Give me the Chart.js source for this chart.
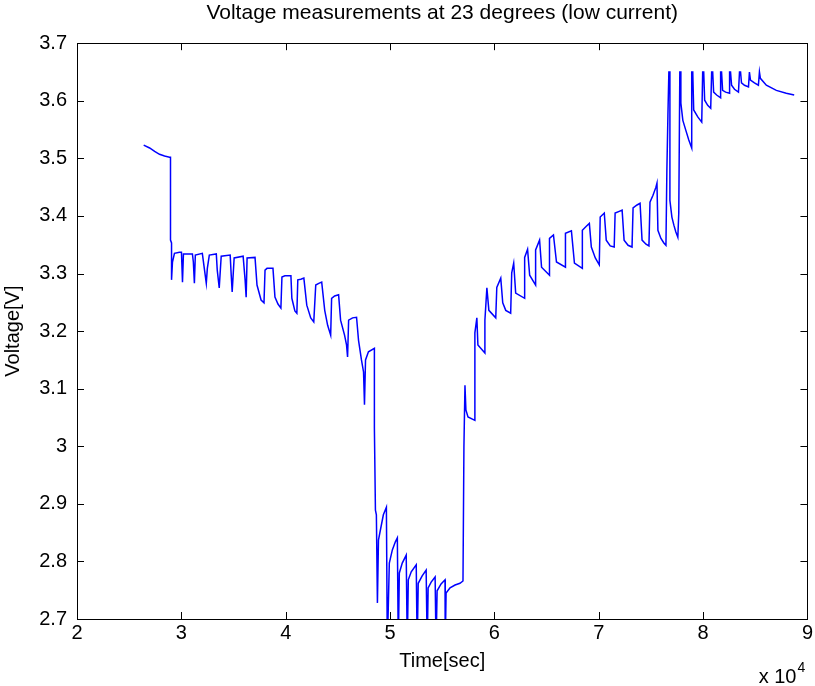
<!DOCTYPE html>
<html>
<head>
<meta charset="utf-8">
<title>Voltage measurements at 23 degrees (low current)</title>
<script src="https://cdn.jsdelivr.net/npm/chart.js@4.4.1/dist/chart.umd.min.js"></script>
<style>
    html, body { margin: 0; padding: 0; background: #fff; }
</style>
</head>
<body>
<canvas id="voltageChart" width="815" height="686"></canvas>
<script>
// Voltage measurements at 23 degrees, low current
// [time in seconds, voltage in volts], read off the plot

// rest, then discharge pulses
const restAndDischarge = [
    [26390, 3.523], [26960, 3.518], [27440, 3.512], [27910, 3.507], [28390, 3.504], [28870, 3.502],
    [28960, 3.502], [28960, 3.358], [29060, 3.353], [29060, 3.289], [29150, 3.320], [29340, 3.335], [29820, 3.337], [30010, 3.337],
    [30110, 3.285], [30200, 3.334], [31060, 3.334],
    [31150, 3.320], [31250, 3.283], [31340, 3.332], [32010, 3.335],
    [32200, 3.309], [32390, 3.283], [32490, 3.309], [32680, 3.332], [33350, 3.334],
    [33440, 3.306], [33630, 3.275], [33820, 3.330], [34680, 3.332],
    [34780, 3.297], [34870, 3.268], [35060, 3.327], [35920, 3.330],
    [36110, 3.289], [36210, 3.259], [36300, 3.327], [37060, 3.328],
    [37250, 3.280], [37640, 3.254], [37920, 3.249], [38020, 3.306], [38210, 3.309], [38780, 3.309],
    [38970, 3.259], [39260, 3.247], [39540, 3.240], [39640, 3.294], [39920, 3.296], [40500, 3.296],
    [40590, 3.257], [40880, 3.235], [41070, 3.231], [41160, 3.289], [41450, 3.290], [41740, 3.292],
    [42020, 3.245], [42400, 3.223], [42690, 3.216], [42880, 3.280], [43170, 3.283], [43450, 3.285],
    [43740, 3.236], [44020, 3.210], [44310, 3.193], [44400, 3.257], [44690, 3.261], [45070, 3.263],
    [45260, 3.219], [45640, 3.193], [45830, 3.176], [45930, 3.155], [46030, 3.219], [46410, 3.223], [46790, 3.224],
    [46980, 3.184], [47260, 3.150], [47460, 3.129], [47550, 3.072], [47650, 3.150], [47930, 3.164], [48500, 3.170]
];

// deep discharge, pulses drop below 2.7
const deepPulses = [
    [48500, 3.032], [48600, 2.889], [48690, 2.881], [48790, 2.728], [48890, 2.837], [49080, 2.855], [49360, 2.881], [49650, 2.894],
    [49740, 2.65], [49930, 2.797], [50220, 2.820], [50510, 2.834], [50700, 2.841],
    [50790, 2.65], [50890, 2.780], [51170, 2.797], [51550, 2.811],
    [51650, 2.65], [51750, 2.768], [52030, 2.782], [52510, 2.794],
    [52600, 2.65], [52700, 2.762], [53080, 2.775], [53460, 2.785],
    [53560, 2.65], [53650, 2.754], [53940, 2.764], [54320, 2.773],
    [54410, 2.65], [54510, 2.749], [54890, 2.761], [55270, 2.768],
    [55290, 2.65], [55370, 2.745], [55750, 2.754], [56230, 2.759], [56700, 2.762], [56990, 2.766]
];

// charge pulses
const chargePulses = [
    [57080, 2.999], [57180, 3.106], [57270, 3.063], [57470, 3.051], [58130, 3.045],
    [58130, 3.197], [58320, 3.223], [58420, 3.176], [59090, 3.162],
    [59090, 3.219], [59280, 3.275], [59470, 3.236], [60130, 3.223],
    [60230, 3.276], [60610, 3.292], [60800, 3.249], [61090, 3.236], [61560, 3.231],
    [61660, 3.301], [61850, 3.318], [62040, 3.266], [62900, 3.257],
    [62900, 3.328], [63180, 3.342], [63380, 3.297], [63950, 3.280],
    [63950, 3.341], [64330, 3.358], [64520, 3.311], [65280, 3.297],
    [65280, 3.361], [65660, 3.367], [65950, 3.320], [66810, 3.311],
    [66810, 3.370], [67380, 3.374], [67670, 3.318], [68430, 3.309],
    [68430, 3.375], [68810, 3.382], [69100, 3.387], [69290, 3.346], [69670, 3.327], [70050, 3.315],
    [70140, 3.398], [70530, 3.405], [70720, 3.358], [71100, 3.348], [71480, 3.346],
    [71570, 3.405], [71960, 3.408], [72240, 3.410], [72430, 3.358], [72810, 3.349], [73190, 3.346],
    [73290, 3.414], [73670, 3.419], [73960, 3.422], [74150, 3.358], [74530, 3.351], [74810, 3.348],
    [74910, 3.424], [75200, 3.436], [75480, 3.450], [75580, 3.457], [75670, 3.375], [75960, 3.361], [76240, 3.353], [76440, 3.349],
    [76530, 3.480], [76630, 3.575]
];

// top of charge, pulses capped at 3.65
const topPulses = [
    [76720, 3.650], [76820, 3.650], [76820, 3.427], [77010, 3.398], [77200, 3.384], [77390, 3.372], [77580, 3.363], [77670, 3.405], [77770, 3.650],
    [77870, 3.650], [77870, 3.596], [78060, 3.566], [78340, 3.549], [78630, 3.532], [78910, 3.518], [78910, 3.650],
    [79010, 3.650], [79100, 3.584], [79490, 3.572], [79870, 3.563], [79960, 3.650],
    [80060, 3.650], [80150, 3.601], [80440, 3.592], [80730, 3.587], [80820, 3.650],
    [80920, 3.650], [81010, 3.615], [81300, 3.610], [81680, 3.605], [81680, 3.650],
    [81770, 3.650], [81870, 3.618], [82160, 3.615], [82540, 3.613], [82540, 3.650],
    [82630, 3.650], [82730, 3.627], [83010, 3.620], [83390, 3.615], [83490, 3.650],
    [83590, 3.650], [83680, 3.631], [83970, 3.627], [84350, 3.624], [84440, 3.650],
    [84540, 3.636], [84920, 3.631], [85300, 3.627], [85400, 3.650], [85490, 3.639],
    [86060, 3.627], [87020, 3.618], [87970, 3.613], [88730, 3.610]
];

const xTicks = [20000, 30000, 40000, 50000, 60000, 70000, 80000, 90000];
const yTicks = [2.7, 2.8, 2.9, 3, 3.1, 3.2, 3.3, 3.4, 3.5, 3.6, 3.7];

const FONT = '"Liberation Sans", Arial, Helvetica, sans-serif';
const TICK_LEN = 7;

Chart.defaults.font.family = FONT;
Chart.defaults.color = '#000';

// MATLAB style box: full frame, inward ticks on all sides, x 10^4 exponent
const matlabBox = {
    id: 'matlabBox',
    afterDraw(chart) {
        const { ctx, chartArea: a, scales } = chart;
        ctx.save();
        ctx.strokeStyle = '#000';
        ctx.lineWidth = 1;
        ctx.strokeRect(Math.round(a.left) + 0.5, Math.round(a.top) + 0.5,
            Math.round(a.right - a.left), Math.round(a.bottom - a.top));

        ctx.beginPath();
        xTicks.forEach(v => {
            const x = Math.round(scales.x.getPixelForValue(v)) + 0.5;
            ctx.moveTo(x, a.bottom);
            ctx.lineTo(x, a.bottom - TICK_LEN);
            ctx.moveTo(x, a.top);
            ctx.lineTo(x, a.top + TICK_LEN);
        });
        yTicks.forEach(v => {
            const y = Math.round(scales.y.getPixelForValue(v)) + 0.5;
            ctx.moveTo(a.left, y);
            ctx.lineTo(a.left + TICK_LEN, y);
            ctx.moveTo(a.right, y);
            ctx.lineTo(a.right - TICK_LEN, y);
        });
        ctx.stroke();

        ctx.fillStyle = '#000';
        ctx.textBaseline = 'alphabetic';
        ctx.font = '20px ' + FONT;
        ctx.textAlign = 'right';
        ctx.fillText('x 10', a.right - 11, 683);
        ctx.font = '14px ' + FONT;
        ctx.textAlign = 'left';
        ctx.fillText('4', a.right - 10, 672);
        ctx.restore();
    }
};

const points = restAndDischarge
    .concat(deepPulses, chargePulses, topPulses)
    .map(([t, v]) => ({ x: t, y: v }));

new Chart(document.getElementById('voltageChart'), {
    type: 'scatter',
    data: {
        datasets: [{
            label: 'Voltage',
            data: points,
            showLine: true,
            borderColor: '#0000ff',
            borderWidth: 1.5,
            pointRadius: 0,
            pointHoverRadius: 0,
            tension: 0,
            fill: false
        }]
    },
    options: {
        responsive: false,
        animation: false,
        layout: {
            padding: { left: 0, right: 4, top: 0, bottom: 0 }
        },
        plugins: {
            legend: { display: false },
            tooltip: { enabled: false },
            title: {
                display: true,
                text: 'Voltage measurements at 23 degrees (low current)',
                fullSize: false,
                color: '#000',
                font: { size: 21, weight: 'normal', lineHeight: 1.2 },
                padding: { top: 1, bottom: 17 }
            }
        },
        scales: {
            x: {
                type: 'linear',
                min: 20000,
                max: 90000,
                afterBuildTicks: scale => {
                    scale.ticks = xTicks.map(v => ({ value: v }));
                },
                afterFit: scale => {
                    scale.height = 67;
                },
                grid: { display: false, drawTicks: false },
                border: { display: false },
                ticks: {
                    color: '#000',
                    font: { size: 20 },
                    padding: 2,
                    maxRotation: 0,
                    autoSkip: false,
                    callback: v => String(v / 10000)
                },
                title: {
                    display: true,
                    text: 'Time[sec]',
                    color: '#000',
                    font: { size: 20 },
                    padding: { top: 0, bottom: 13 }
                }
            },
            y: {
                min: 2.7,
                max: 3.7,
                afterBuildTicks: scale => {
                    scale.ticks = yTicks.map(v => ({ value: v }));
                },
                afterFit: scale => {
                    scale.width = 77;
                },
                grid: { display: false, drawTicks: false },
                border: { display: false },
                ticks: {
                    color: '#000',
                    font: { size: 20 },
                    padding: 10,
                    autoSkip: false,
                    callback: v => String(v)
                },
                title: {
                    display: true,
                    text: 'Voltage[V]',
                    color: '#000',
                    font: { size: 20 },
                    padding: { top: 1, bottom: 0 }
                }
            }
        }
    },
    plugins: [matlabBox]
});
</script>
</body>
</html>
